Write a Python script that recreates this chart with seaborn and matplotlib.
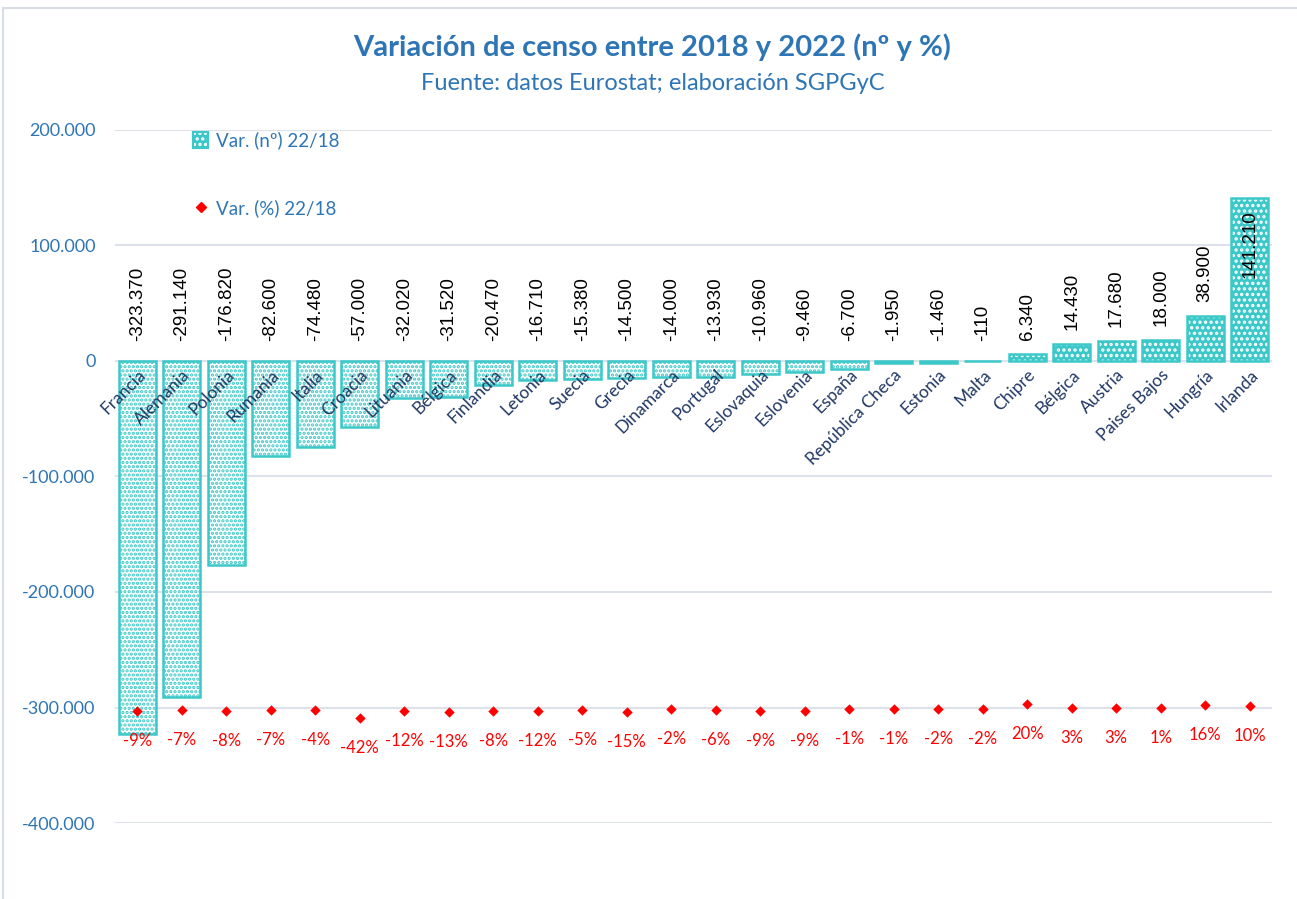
import matplotlib
matplotlib.use("Agg")
import matplotlib.pyplot as plt
import matplotlib.ticker as mticker
from matplotlib.colors import to_rgba
from matplotlib.patches import Rectangle, Patch
from matplotlib.lines import Line2D
import seaborn as sns
import pandas as pd

# Datos
paises = ["Francia", "Alemania", "Polonia", "Rumania", "Italia", "Croacia", "Lituania",
          "Bélgica", "Finlandia", "Letonia", "Suecia", "Grecia", "Dinamarca", "Portugal",
          "Eslovaquia", "Eslovenia", "España", "República Checa", "Estonia", "Malta",
          "Chipre", "Bélgica", "Austria", "Paises Bajos", "Hungría", "Irlanda"]
var_n = [-323370, -291140, -176820, -82600, -74480, -57000, -32020, -31520, -20470,
         -16710, -15380, -14500, -14000, -13930, -10960, -9460, -6700, -1950, -1460,
         -110, 6340, 14430, 17680, 18000, 38900, 141210]
var_pct = [-9, -7, -8, -7, -4, -42, -12, -13, -8, -12, -5, -15, -2, -6, -9, -9, -1,
           -1, -2, -2, 20, 3, 3, 1, 16, 10]
y_ticks = [200000, 100000, 0, -100000, -200000, -300000, -400000]

df = pd.DataFrame({"pos": range(len(paises)), "pais": paises,
                   "var_n": var_n, "var_pct": var_pct})

CIAN = "#3CC8C8"
AZUL = "#2E75B6"
NAVY = "#203864"
ROJO = "#FF0000"
GRIS = "#DDE2EA"


def color_trama(patch, color):
    if hasattr(patch, "set_hatchcolor"):
        patch.set_hatchcolor(color)
    else:
        patch._hatch_color = to_rgba(color)


sns.set_theme(style="white")
plt.rcParams["font.family"] = ["Lato", "DejaVu Sans"]
plt.rcParams["hatch.linewidth"] = 1.6

fig = plt.figure(figsize=(12.97, 8.99), dpi=100)
ax = fig.add_axes([115 / 1297, 1 - 823 / 899, 1157 / 1297, 693 / 899])

sns.barplot(data=df, x="pos", y="var_n", ax=ax, color="white", saturation=1,
            width=0.84, edgecolor=CIAN, linewidth=1.8, hatch="....", zorder=2)
# positivos: fondo cian con trama blanca; negativos: fondo blanco con trama cian
for patch, v in zip(ax.patches, var_n):
    if v > 0:
        patch.set_facecolor(CIAN)
        patch.set_hatch("...")
        color_trama(patch, "white")
    else:
        color_trama(patch, CIAN)

ax.set_xlim(-0.5, len(paises) - 0.5)
ax.set_ylim(-400000, 200000)
ax.set_yticks(y_ticks)
ax.yaxis.set_major_formatter(mticker.FuncFormatter(
    lambda v, p: f"{int(v):,}".replace(",", ".")))
ax.tick_params(axis="y", colors=AZUL, labelsize=13, length=0, pad=14)
ax.grid(False)
for t in y_ticks:
    ax.axhline(t, color=GRIS, linewidth=1.5, zorder=0.5)
for s in ["top", "right", "left", "bottom"]:
    ax.spines[s].set_visible(False)
ax.spines["bottom"].set_position(("data", 0))
ax.set_xticks(range(len(paises)))
ax.set_xticklabels(paises, rotation=45, ha="right", rotation_mode="anchor",
                   color=NAVY, fontsize=12.5)
ax.tick_params(axis="x", length=0, pad=4)
ax.set_axisbelow(False)
ax.set_xlabel("")
ax.set_ylabel("")

# etiquetas de las barras
for i, v in enumerate(var_n):
    txt = f"{v:,}".replace(",", ".")
    if v < 0:
        y, off, va = 0, 20, "bottom"
    elif v > 100000:
        y, off, va = v, -12, "top"
    else:
        y, off, va = v, 14, "bottom"
    ax.annotate(txt, xy=(i, y), xytext=(0, off), textcoords="offset pixels",
                rotation=90, ha="center", va=va, fontsize=13.5,
                family="Liberation Sans", color="black", zorder=5)

# eje secundario para el porcentaje (oculto)
PCT_CERO = -301000
PCT_ESCALA = 200
ax2 = ax.twinx()
sns.scatterplot(data=df, x="pos", y="var_pct", ax=ax2, marker="D", color=ROJO,
                s=28, edgecolor=ROJO, linewidth=0, legend=False)
ax2.set_ylim((-400000 - PCT_CERO) / PCT_ESCALA, (200000 - PCT_CERO) / PCT_ESCALA)
ax.set_xlim(-0.5, len(paises) - 0.5)
ax2.axis("off")
for i, p in enumerate(var_pct):
    ax2.annotate(f"{p}%", xy=(i, p), xytext=(0, -30), textcoords="offset pixels",
                 ha="center", va="center", fontsize=12, color=ROJO)

h_bar = Patch(facecolor=CIAN, edgecolor=CIAN, hatch="...", linewidth=1.5)
color_trama(h_bar, "white")
h_pct = Line2D([], [], marker="D", color=ROJO, linestyle="none", markersize=5)
ax2.legend([h_bar, h_pct], ["Var. (nº) 22/18", "Var. (%) 22/18"], loc="upper left",
           bbox_to_anchor=(0.053, 1.022), frameon=False, labelspacing=2.65,
           handlelength=0.8, handleheight=0.9, handletextpad=0.4,
           fontsize=13.5, labelcolor=AZUL)

fig.text(0.503, 1 - 47 / 899, "Variación de censo entre 2018 y 2022 (nº y %)",
         ha="center", va="center", fontsize=21, fontweight="bold", color=AZUL)
fig.text(0.503, 1 - 84 / 899, "Fuente: datos Eurostat; elaboración SGPGyC",
         ha="center", va="center", fontsize=17, color=AZUL)

# marco del grafico
fig.patches.append(Rectangle((3 / 1297, -0.1), 1.2, 1.1 - 8 / 899,
                             transform=fig.transFigure, fill=False,
                             edgecolor="#D9DEE6", linewidth=1.5))

fig.savefig("out.png", dpi=100)
